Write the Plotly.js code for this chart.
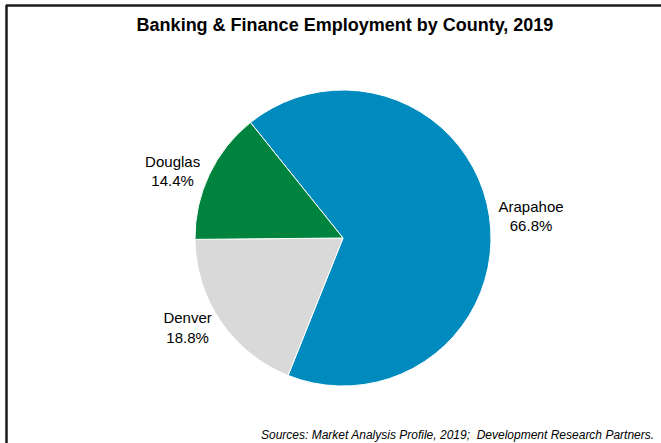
<!DOCTYPE html>
<html>
<head>
<meta charset="utf-8">
<script src="https://cdn.plot.ly/plotly-3.0.1.min.js"></script>
<style>
html,body{margin:0;padding:0;background:#fff;}
#chart{width:661px;height:443px;}
</style>
</head>
<body>
<div id="chart"></div>
<script>
const counties = ["Arapahoe", "Denver", "Douglas"];
const shares = [66.8, 18.8, 14.4];
const sliceColors = ["#008BBF", "#D9D9D9", "#00843D"];
const chartTitle = "Banking & Finance Employment by County, 2019";
const sourceNote = "Sources: Market Analysis Profile, 2019;  Development Research Partners.";

const W = 661, H = 443;
const px = x => x / W;
const py = y => 1 - y / H;

const trace = {
  type: "pie",
  labels: counties,
  values: shares,
  sort: false,
  direction: "clockwise",
  rotation: -38.7,
  marker: {colors: sliceColors, line: {color: "#ffffff", width: 1}},
  textposition: "outside",
  texttemplate: "%{label}<br>%{percent:.1%}",
  textfont: {family: "Liberation Sans, Arial, sans-serif", size: 15, color: "#000"},
  hoverinfo: "none",
  showlegend: false,
  automargin: false,
  domain: {x: [px(195), px(491)], y: [py(386), py(90)]}
};

const layout = {
  width: W, height: H,
  margin: {l: 0, r: 0, t: 0, b: 0},
  paper_bgcolor: "#fff",
  showlegend: false,
  title: {
    text: "<b>" + chartTitle + "</b>",
    font: {family: "Liberation Sans, Arial, sans-serif", size: 18, color: "#000"},
    x: px(345), xanchor: "center", y: py(25), yanchor: "middle"
  },
  shapes: [
    {type: "line", xref: "paper", yref: "paper", x0: px(6), x1: px(700), y0: py(5.5), y1: py(5.5), line: {color: "#1a1a1a", width: 2.5}},
    {type: "line", xref: "paper", yref: "paper", x0: px(6.5), x1: px(6.5), y0: py(5), y1: py(480), line: {color: "#1a1a1a", width: 2.5}}
  ],
  annotations: [
    {text: "<i>" + sourceNote + "</i>", xref: "paper", yref: "paper", x: px(656), y: py(435), xanchor: "right", yanchor: "middle", showarrow: false,
     font: {family: "Liberation Sans, Arial, sans-serif", size: 12, color: "#000"}}
  ]
};

Plotly.newPlot("chart", [trace], layout, {staticPlot: true, displayModeBar: false});
</script>
</body>
</html>
